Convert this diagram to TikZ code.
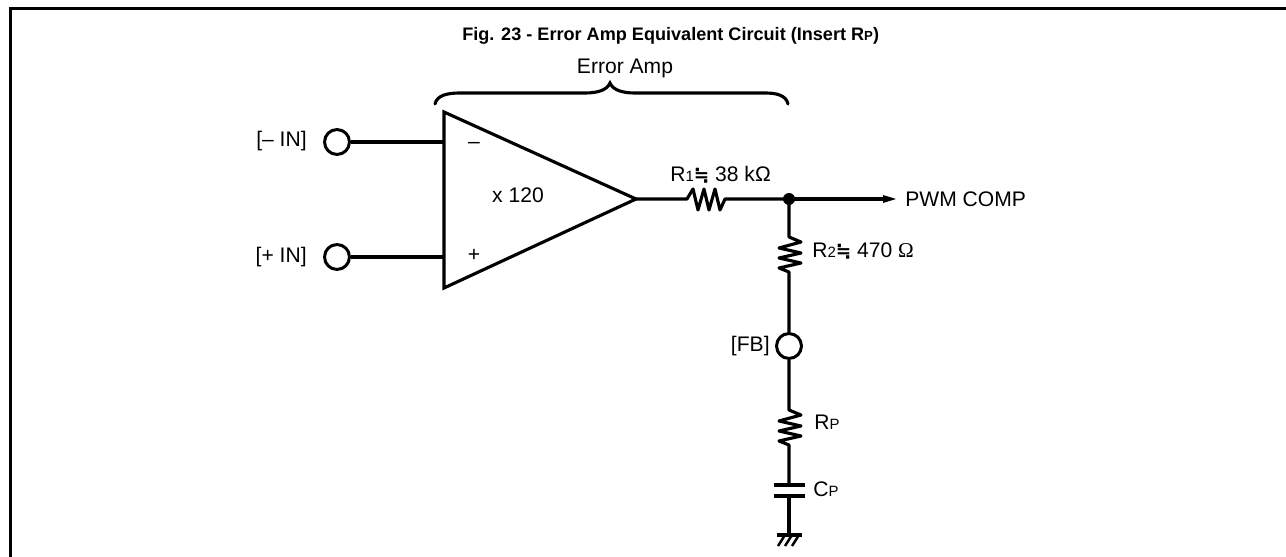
\documentclass[tikz,border=0pt]{standalone}
\usepackage{fontspec}
\setmainfont{Liberation Sans}
\newfontfamily\symfont{DejaVu Sans}
\newfontfamily\omegafont{Liberation Serif}
\usetikzlibrary{calc}
\tikzset{
    wire/.style={line width=1.78pt},
    pad/.style={circle,draw,line width=1.7pt,minimum size=14.2pt,inner sep=0pt},
    lbl/.style={inner sep=0pt,font=\fontsize{12}{14}\selectfont},
}
\newcommand{\approxsym}{{\symfont\bfseries\fontsize{10.5}{12}\selectfont ≒}}
\newcommand{\subs}[1]{{\fontsize{8.5}{10}\selectfont #1}}

\begin{document}
\begin{tikzpicture}[x=0.02cm,y=-0.02cm]
    \useasboundingbox (0,0) rectangle (1286,557);

    % Frame
    \draw[line width=1.8pt] (10.5,557) -- (10.5,8.5) -- (1286,8.5);

    % Title
    \node[lbl,font=\fontsize{10.3}{12}\bfseries\selectfont,anchor=base west] (title) at (462,41) {Fig. 23 - Error Amp Equivalent Circuit (Insert R{\fontsize{7.5}{9}\selectfont P})};

    % Amplifier
    \coordinate (amptop) at (444,112);
    \coordinate (ampbot) at (444,288);
    \coordinate (ampout) at (636,199);
    \draw[wire,line join=miter] (amptop) -- (ampout) -- (ampbot) -- cycle;
    \node[lbl] (gain) at (518,195) {x 120};
    \node[lbl] (minus) at (474,145) {--};
    \node[lbl] (plus) at (474,255) {+};

    % Brace
    \node[lbl,anchor=base] (brace) at (625,74) {Error Amp};
    \coordinate (bl) at (435,104);
    \coordinate (bc) at (610,83);
    \coordinate (br) at (788,104);
    \draw[wire,line cap=round] (bl) .. controls (437,95) and (448,93) .. (460,93) -- (585,93)
        .. controls (598,93) and (607,90) .. (bc)
        .. controls (613,90) and (622,93) .. (635,93) -- (765,93)
        .. controls (776,93) and (786,95) .. (br);

    % Inputs
    \node[pad] (inm) at (337,142) {};
    \node[pad] (inp) at (337,257) {};
    \node[lbl,anchor=east] (inmlbl) at (307,141) {[-- IN]};
    \node[lbl,anchor=east] (inplbl) at (307,257) {[+ IN]};
    \draw[wire] (inm) -- (inm -| amptop);
    \draw[wire] (inp) -- (inp -| amptop);

    % R1
    \coordinate (r1a) at (687,199);
    \coordinate (node1) at (789,199);
    \draw[wire,line join=round] (ampout) -- (r1a) -- ++(6,-10) -- ++(5,21) -- ++(6,-21) -- ++(5,21) -- ++(6,-21) -- ++(5,21) -- ++(5,-11) -- (node1);
    \fill (node1) circle (6);
    \node[lbl,anchor=base west] (r1lbl) at (670,182) {R\subs{1}\approxsym{} 38 kΩ};

    % Output
    \coordinate (arrowtip) at (896,199);
    \coordinate (arrowbase) at (883,199);
    \node[lbl,anchor=west] (pwm) at (905,199) {PWM COMP};
    \draw[wire] (node1) -- (arrowbase);
    \fill (arrowtip) -- (883,195) -- (883,203) -- cycle;

    % R2
    \coordinate (r2a) at (789,237);
    \node[pad] (fb) at (789,346) {};
    \draw[wire,line join=round] (node1) -- (r2a) -- ++(12,5) -- ++(-22,6) -- ++(22,5) -- ++(-22,5) -- ++(22,5) -- ++(-22,5) -- ++(10,4) -- (fb);
    \node[lbl,anchor=base west] (r2lbl) at (812,258) {R\subs{2}\approxsym{} 470 {\omegafont Ω}};
    \node[lbl,anchor=east] (fblbl) at (770,346) {[FB]};

    % RP
    \coordinate (rpa) at (789,410);
    \coordinate (cptop) at (789,485);
    \draw[wire,line join=round] (fb) -- (rpa) -- ++(12,5) -- ++(-22,6) -- ++(22,5) -- ++(-22,5) -- ++(22,5) -- ++(-22,5) -- ++(10,4) -- (cptop);
    \node[lbl,anchor=base west] (rplbl) at (814,430) {R\subs{P}};

    % CP
    \coordinate (cpbot) at (789,496);
    \draw[wire] (774,485) -- (805,485);
    \draw[wire] (774,496) -- (805,496);
    \node[lbl,anchor=base west] (cplbl) at (813,497) {C\subs{P}};

    % Ground
    \coordinate (gnd) at (789,535);
    \draw[wire] (cpbot) -- (gnd);
    \draw[wire] (777,535) -- (802,535);
    \foreach \gx in {785,792,799}
        \draw[line width=1.4pt] (\gx,535) -- ++(-7,11);
\end{tikzpicture}
\end{document}
